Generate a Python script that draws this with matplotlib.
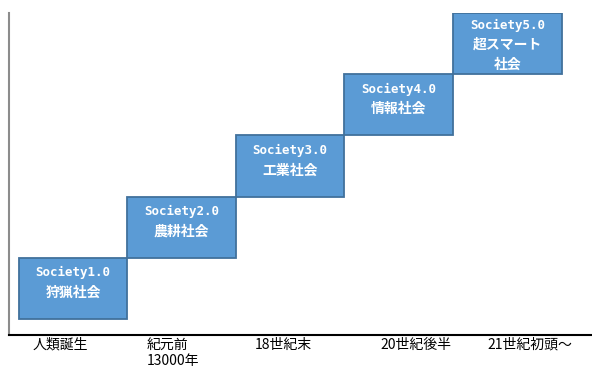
import matplotlib.pyplot as plt
import numpy as np

# データ
stages = ['Society1.0', 'Society2.0', 'Society3.0', 'Society4.0', 'Society5.0']
names = ['狩猟社会', '農耕社会', '工業社会', '情報社会', '超スマート\n社会']
base = [0.26, 1.26, 2.26, 3.26, 4.26]
height = [1, 1, 1, 1, 1]
eras = ['人類誕生', '紀元前\n13000年', '18世紀末', '20世紀後半', '21世紀初頭〜']
era_pos = [-0.12, 0.92, 1.94, 3.16, 4.21]

plt.rcParams['font.family'] = ['Noto Sans CJK JP', 'DejaVu Sans']

fig = plt.figure(figsize=(5.92, 3.68), dpi=100)
ax = fig.add_axes([9 / 592, 33 / 368, 1 - 9 / 592, 322 / 368])

x = np.arange(len(stages))
ax.bar(x, height, bottom=base, width=1.0, color='#5B9BD5',
       edgecolor='#41719C', linewidth=1.3)

# 箱の中の文字 (上から 行ごと)
for i in range(len(stages)):
    top = base[i] + height[i]
    off = -12 if i == 4 else -15
    ax.annotate(stages[i], xy=(i, top), xytext=(0, off * 0.72), textcoords='offset points',
                ha='center', va='center', color='white', fontsize=9, fontweight='bold',
                family=['DejaVu Sans Mono', 'Noto Sans CJK JP'])
    for k, line in enumerate(names[i].split('\n')):
        ax.annotate(line, xy=(i, top), xytext=(0, (off - 20 * (k + 1)) * 0.72),
                    textcoords='offset points', ha='center', va='center',
                    color='white', fontsize=10, fontweight='bold')

ax.set_xlim(-0.59, 4.78)
ax.set_ylim(0, 5.26)
ax.set_xticks(era_pos)
ax.set_xticklabels(eras, fontsize=10, multialignment='left', linespacing=1.2)
ax.tick_params(axis='x', length=0, pad=2)
ax.set_yticks([])
ax.spines['top'].set_visible(False)
ax.spines['right'].set_visible(False)
ax.spines['left'].set_color('#8C8C8C')
ax.spines['left'].set_linewidth(1.5)
ax.spines['bottom'].set_color('black')
ax.spines['bottom'].set_linewidth(1.5)

fig.savefig('out.png', dpi=100)
